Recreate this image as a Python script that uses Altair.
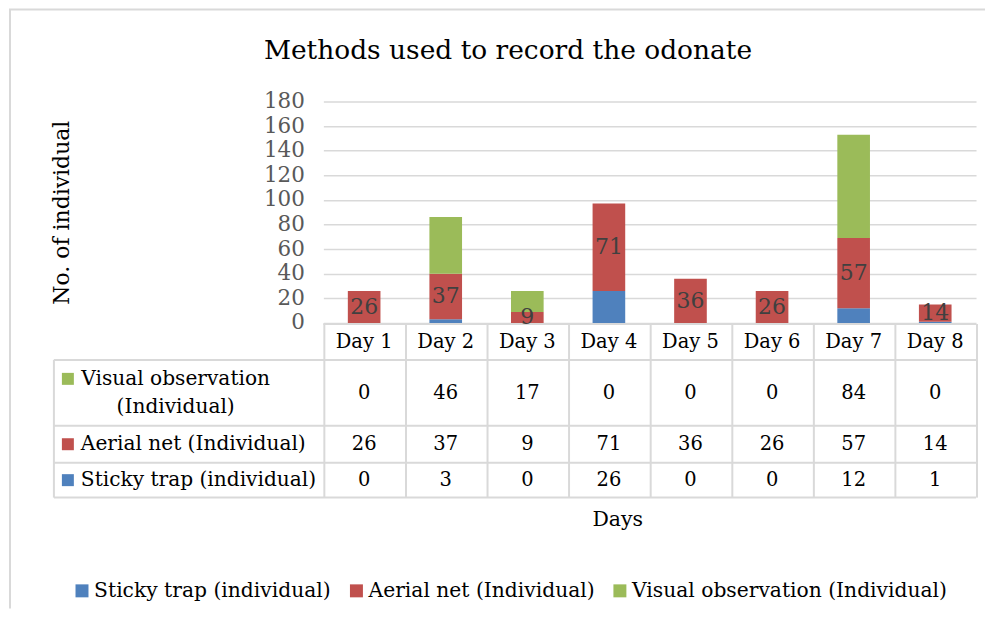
import altair as alt
import pandas as pd

# ---------------- data ----------------
days = ["Day 1", "Day 2", "Day 3", "Day 4", "Day 5", "Day 6", "Day 7", "Day 8"]
sticky = [0, 3, 0, 26, 0, 0, 12, 1]
aerial = [26, 37, 9, 71, 36, 26, 57, 14]
visual = [0, 46, 17, 0, 0, 0, 84, 0]
series = ["Sticky trap (individual)", "Aerial net (Individual)", "Visual observation (Individual)"]
y_ticks = [0, 20, 40, 60, 80, 100, 120, 140, 160, 180]

chart_title = "Methods used to record the odonate"
y_title = "No. of individual"
x_title = "Days"

# ---------------- styles / layout ----------------
colors = ["#4F81BD", "#C0504D", "#9BBB59"]
FONT = "DejaVu Serif"
W, H = 654, 222
GRID = "#D9D9D9"
TXT = 19.5
LBL = 20.2

long = pd.DataFrame(
    [
        {"day": d, "series": s, "value": v, "rank": k}
        for k, (s, vals) in enumerate(zip(series, [sticky, aerial, visual]))
        for d, v in zip(days, vals)
    ]
)
wide = pd.DataFrame({"day": days, "sticky": sticky, "aerial": aerial, "visual": visual})

xscale = alt.Scale(domain=days, paddingInner=0.6, paddingOuter=0.3)
step = W / len(days)

y_axis = alt.Axis(
    values=y_ticks,
    labelOverlap=False,
    labelFont=FONT,
    labelFontSize=21.5,
    labelColor="#595959",
    labelPadding=19,
    ticks=False,
    domain=False,
    grid=True,
    gridColor=GRID,
    gridWidth=1.5,
    title=y_title,
    titleFont=FONT,
    titleFontSize=22,
    titleFontWeight="normal",
    titleColor="#000000",
    titleAngle=270,
    titleX=-262,
    titleY=111,
    titleAlign="center",
    titleBaseline="middle",
)
y_scale = alt.Scale(domain=[0, 180], nice=False)

bars = alt.Chart(long).mark_bar().encode(
    x=alt.X("day:N", scale=xscale, axis=None),
    y=alt.Y("value:Q", stack="zero", scale=y_scale, axis=y_axis),
    color=alt.Color(
        "series:N",
        scale=alt.Scale(domain=series, range=colors),
        legend=alt.Legend(
            title=None,
            orient="none",
            legendX=-252,
            legendY=480,
            direction="horizontal",
            symbolType="square",
            symbolSize=169,
            symbolStrokeWidth=0,
            labelFont=FONT,
            labelFontSize=20.3,
            labelColor="#000000",
            labelOffset=2,
            columnPadding=15,
            labelLimit=400,
        ),
    ),
    order=alt.Order("rank:Q"),
)

bar_labels = (
    alt.Chart(wide)
    .transform_calculate(mid="datum.sticky + datum.aerial / 2")
    .mark_text(font=FONT, fontSize=22, color="#404040", baseline="middle")
    .encode(x=alt.X("day:N", scale=xscale, axis=None), y=alt.Y("mid:Q", scale=y_scale, axis=y_axis), text="aerial:Q")
)


def one(t="x"):
    return alt.Chart(pd.DataFrame({"t": [t]}))


def hrule(x1, x2, y):
    return one().mark_rule(color=GRID, strokeWidth=2).encode(x=alt.value(x1), x2=alt.value(x2), y=alt.value(y))


def vrule(x, y1, y2):
    return one().mark_rule(color=GRID, strokeWidth=2).encode(x=alt.value(x), y=alt.value(y1), y2=alt.value(y2))


def label(t, x, y, align, size=LBL):
    return one(t).mark_text(font=FONT, fontSize=size, color="#000000", align=align, baseline="middle").encode(
        x=alt.value(x), y=alt.value(y), text="t:N"
    )


# table rows (pixel centres below plot)
ROW_HEADER, ROW_VIS, ROW_AER, ROW_STI = 241, 292, 343.5, 379.5

header = alt.Chart(wide).mark_text(font=FONT, fontSize=TXT, color="#000000", baseline="middle").encode(
    x="day:N", y=alt.value(ROW_HEADER), text="day:N"
)

cells = []
for key, ry in [("visual", ROW_VIS), ("aerial", ROW_AER), ("sticky", ROW_STI)]:
    cells.append(
        alt.Chart(wide)
        .mark_text(font=FONT, fontSize=TXT, color="#000000", baseline="middle")
        .encode(x="day:N", y=alt.value(ry), text=f"{key}:Q")
    )

table_rules = [
    hrule(0, W, 223),
    hrule(-270, W, 259),
    hrule(-270, W, 325),
    hrule(-270, W, 362),
    hrule(-270, W, 397),
    vrule(-270, 259, 397),
] + [vrule(round(i * step, 1) + 1, 223, 397) for i in range(len(days) + 1)] + [
    # outer frame
    hrule(-315, 663, -92),
    vrule(-314, -92, 508),
]

vis_a, vis_b = series[2].split(" (")
labels = [
    label(vis_a, -148, ROW_VIS - 14, "center"),
    label("(" + vis_b, -148, ROW_VIS + 14, "center"),
    label(series[1], -243, ROW_AER, "left"),
    label(series[0], -243, ROW_STI, "left"),
]
squares = [
    one().mark_square(size=144, color=colors[2], opacity=1).encode(x=alt.value(-256), y=alt.value(ROW_VIS - 14)),
    one().mark_square(size=144, color=colors[1], opacity=1).encode(x=alt.value(-256), y=alt.value(ROW_AER)),
    one().mark_square(size=144, color=colors[0], opacity=1).encode(x=alt.value(-256), y=alt.value(ROW_STI)),
]

days_title = label(x_title, 295, 419, "center", 20.5)
title_mark = label(chart_title, 185, -51, "center", 26.5)

chart = (
    alt.layer(*table_rules, bars, bar_labels, header, *cells, *labels, *squares, days_title, title_mark)
    .properties(width=W, height=H, padding=0, background="#FFFFFF")
    .configure_view(stroke=None)
)

chart.save("out.html", embed_options={"renderer": "svg", "actions": False})
